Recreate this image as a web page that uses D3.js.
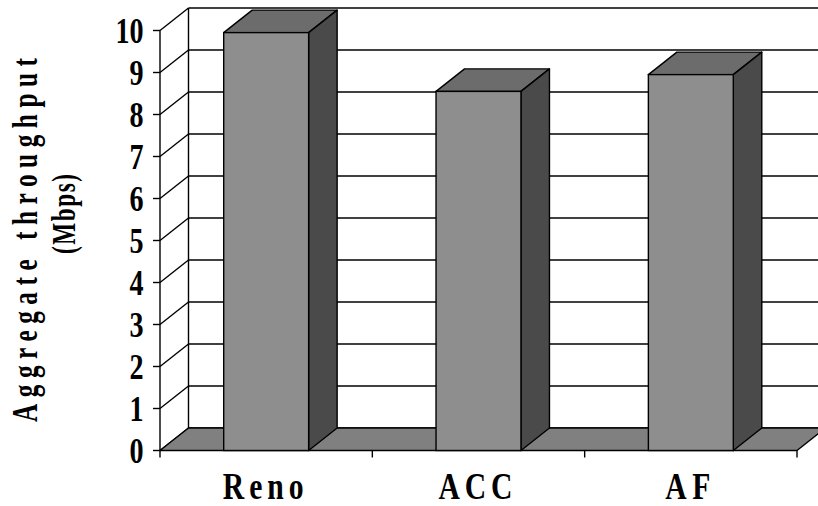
<!DOCTYPE html>
<html>
<head>
<meta charset="utf-8">
<script src="https://cdn.jsdelivr.net/npm/d3@7"></script>
<style>
  html, body { margin: 0; padding: 0; background: #fff; }
  svg { display: block; }
  text { font-family: "Liberation Serif", "Times New Roman", serif; font-weight: bold; fill: #000; }
</style>
</head>
<body>
<svg id="chart" width="818" height="506"></svg>
<script>
// Aggregate throughput per congestion-control scheme
const categories = ["Reno", "ACC", "AF"];
const throughput = [9.95, 8.55, 8.95];
const yTickValues = [0, 1, 2, 3, 4, 5, 6, 7, 8, 9, 10];
const axisTitleLines = ["Aggregate throughput", "(Mbps)"];

const svg = d3.select("#chart");
const W = 818, H = 506;

// plot frame (front plane) and depth offset of the 3-D box
const frontLeft = 160, frontRight = 797;
const depthX = 28.5, depthY = -22.5;

const x = d3.scaleBand()
  .domain(categories)
  .range([frontLeft, frontRight])
  .paddingInner(0.6)
  .paddingOuter(0.3);

const y = d3.scaleLinear().domain([0, 10]).range([450.5, 30.5]);

const stroke = "#000";
const sw = 1.4;
const line = d3.line();

// back wall
svg.append("rect")
  .attr("x", frontLeft + depthX).attr("y", y(10) + depthY)
  .attr("width", W + 20 - (frontLeft + depthX))
  .attr("height", y(0) - y(10))
  .attr("fill", "#fff");

// back-wall gridlines
svg.append("g").selectAll("line")
  .data(yTickValues)
  .join("line")
  .attr("x1", frontLeft + depthX).attr("x2", W + 20)
  .attr("y1", d => y(d) + depthY).attr("y2", d => y(d) + depthY)
  .attr("stroke", stroke).attr("stroke-width", sw);

// side wall: back edge and diagonal gridlines
svg.append("line")
  .attr("x1", frontLeft + depthX).attr("x2", frontLeft + depthX)
  .attr("y1", y(10) + depthY).attr("y2", y(0) + depthY)
  .attr("stroke", stroke).attr("stroke-width", sw);

svg.append("g").selectAll("line")
  .data(yTickValues)
  .join("line")
  .attr("x1", frontLeft).attr("y1", d => y(d))
  .attr("x2", frontLeft + depthX).attr("y2", d => y(d) + depthY)
  .attr("stroke", stroke).attr("stroke-width", sw);

// floor
svg.append("path")
  .attr("d", line([
    [frontLeft, y(0)], [frontRight, y(0)],
    [frontRight + depthX, y(0) + depthY], [frontLeft + depthX, y(0) + depthY]
  ]) + "Z")
  .attr("fill", "#808080")
  .attr("stroke", stroke).attr("stroke-width", sw)
  .attr("stroke-linejoin", "round");

// bars: top, right side and front face
const bars = svg.append("g").selectAll("g")
  .data(categories.map((c, i) => ({ c, v: throughput[i] })))
  .join("g");

bars.append("path")
  .attr("d", d => {
    const x0 = x(d.c), x1 = x0 + x.bandwidth(), yt = y(d.v);
    return line([[x0, yt], [x1, yt], [x1 + depthX, yt + depthY], [x0 + depthX, yt + depthY]]) + "Z";
  })
  .attr("fill", "#6c6c6c")
  .attr("stroke", stroke).attr("stroke-width", sw).attr("stroke-linejoin", "round");

bars.append("path")
  .attr("d", d => {
    const x1 = x(d.c) + x.bandwidth(), yt = y(d.v), yb = y(0);
    return line([[x1, yt], [x1 + depthX, yt + depthY], [x1 + depthX, yb + depthY], [x1, yb]]) + "Z";
  })
  .attr("fill", "#4a4a4a")
  .attr("stroke", stroke).attr("stroke-width", sw).attr("stroke-linejoin", "round");

bars.append("rect")
  .attr("x", d => x(d.c))
  .attr("y", d => y(d.v))
  .attr("width", x.bandwidth())
  .attr("height", d => y(0) - y(d.v))
  .attr("fill", "#8e8e8e")
  .attr("stroke", stroke).attr("stroke-width", sw);

// front value axis with ticks on the left
svg.append("line")
  .attr("x1", frontLeft).attr("x2", frontLeft)
  .attr("y1", y(10)).attr("y2", y(0) + 7)
  .attr("stroke", stroke).attr("stroke-width", sw);

svg.append("g").selectAll("line")
  .data(yTickValues)
  .join("line")
  .attr("x1", frontLeft - 7).attr("x2", frontLeft)
  .attr("y1", d => y(d)).attr("y2", d => y(d))
  .attr("stroke", stroke).attr("stroke-width", sw);

svg.append("g").selectAll("g")
  .data(yTickValues)
  .join("g")
  .attr("transform", d => `translate(143.5,${y(d) + 12}) scale(0.78,1)`)
  .append("text")
  .attr("text-anchor", "end")
  .attr("font-size", 36)
  .text(d => d);

// category boundary ticks along the front floor edge
const step = (frontRight - frontLeft) / categories.length;
svg.append("g").selectAll("line")
  .data(d3.range(1, categories.length + 1))
  .join("line")
  .attr("x1", i => frontLeft + i * step).attr("x2", i => frontLeft + i * step)
  .attr("y1", y(0)).attr("y2", y(0) + 7)
  .attr("stroke", stroke).attr("stroke-width", sw);

// category labels
const catWidths = { Reno: 81, ACC: 74, AF: 45 };
svg.append("g").selectAll("g")
  .data(categories)
  .join("g")
  .attr("transform", c => `translate(${x(c) + x.bandwidth() / 2 - 3},499) scale(0.78,1)`)
  .append("text")
  .attr("text-anchor", "middle")
  .attr("font-size", 38)
  .attr("textLength", c => catWidths[c] / 0.78)
  .attr("lengthAdjust", "spacing")
  .text(c => c);

// value axis title, two rotated lines
const titleSpecs = [
  { x: 37, cy: 240, len: 364, size: 36, sx: 0.7 },
  { x: 75, cy: 214, len: 80, size: 34, sx: 0.68 }
];
svg.append("g").selectAll("g")
  .data(axisTitleLines)
  .join("g")
  .attr("transform", (t, i) => `translate(${titleSpecs[i].x},${titleSpecs[i].cy}) rotate(-90) scale(${titleSpecs[i].sx},1)`)
  .append("text")
  .attr("text-anchor", "middle")
  .attr("font-size", (t, i) => titleSpecs[i].size)
  .attr("textLength", (t, i) => titleSpecs[i].len / titleSpecs[i].sx)
  .attr("lengthAdjust", "spacing")
  .text(t => t);
</script>
</body>
</html>
